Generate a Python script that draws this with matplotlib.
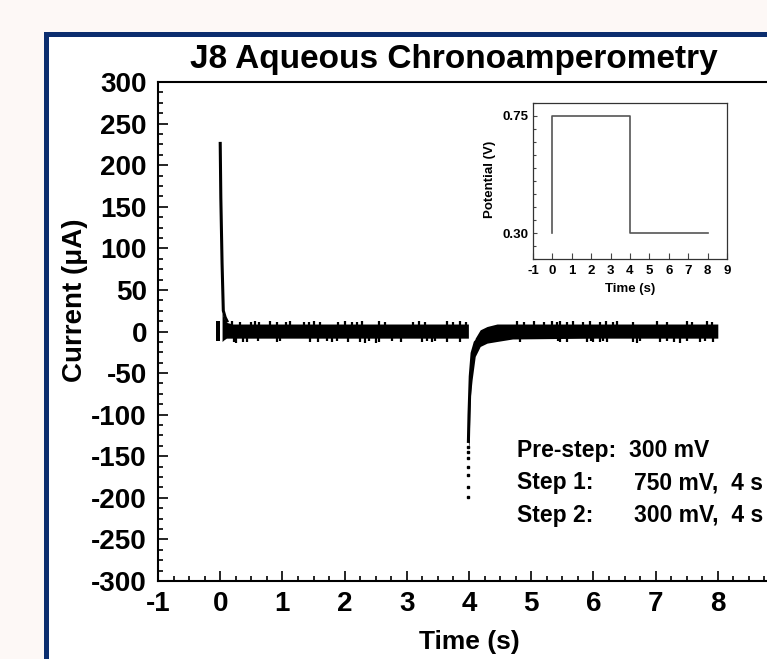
import matplotlib
matplotlib.use('Agg')
import matplotlib.pyplot as plt
from matplotlib.patches import Rectangle
from matplotlib.ticker import MultipleLocator, FixedLocator, FixedFormatter

plt.rcParams['font.family'] = ['Liberation Sans', 'DejaVu Sans']
plt.rcParams['font.weight'] = 'bold'
plt.rcParams['axes.unicode_minus'] = False

# ---------------- data ----------------
# pre-step noise block just before t = 0
pre_t = [-0.07, 0.0]
pre_hi = [13, 13]
pre_lo = [-12, -12]

# current spike after step 1 (t = 0)
spike1_t = [0.0, 0.01, 0.03, 0.05, 0.08, 0.12]
spike1_i = [228, 161, 82, 25, 17, 11]

# noise band of step 1 (envelope)
band1_t = [0.03, 0.06, 0.10, 0.20, 1.00, 2.00, 3.00, 3.99]
band1_hi = [22, 16, 11, 9, 9, 9, 9, 9]
band1_lo = [-12, -10, -8, -8, -8, -8, -8, -8]

# spike after step 2 (t = 4): dense part and sparse tail
spike2_t = [3.99, 4.00, 4.02, 4.05, 4.10, 4.23]
spike2_i = [-134, -100, -54, -26, -13, -4]
tail2_t = [3.99, 3.99, 3.99, 3.99, 3.99, 3.99, 3.99]
tail2_i = [-139, -145, -152, -163, -172, -187, -199]

# noise band of step 2 (envelope)
band2_t = [3.99, 4.00, 4.02, 4.05, 4.10, 4.18, 4.29, 4.45, 4.70, 6.00, 8.00]
band2_hi = [-134, -100, -54, -26, -8, 2, 6, 9, 9, 9, 9]
band2_lo = [-134, -140, -80, -58, -30, -18, -14, -12, -9, -8, -8]

# noise outliers above / below the band
out_hi_t = [0.19, 0.32, 0.50, 0.56, 0.62, 0.80, 0.91, 1.05, 1.12, 1.35, 1.42, 1.50,
            1.60, 1.90, 2.00, 2.12, 2.20, 2.28, 2.55, 2.65, 3.10, 3.20, 3.30, 3.65,
            3.75, 3.85, 3.95, 4.77, 4.88, 5.04, 5.20, 5.33, 5.41, 5.47, 5.57, 5.68,
            5.84, 5.95, 6.11, 6.20, 6.32, 6.38, 6.64, 7.02, 7.18, 7.50, 7.58, 7.83, 7.91]
out_hi_i = [13, 12, 12, 13, 12, 13, 12, 12, 13, 12, 12, 13,
            12, 12, 13, 12, 12, 13, 13, 12, 12, 13, 12, 13,
            12, 13, 12, 13, 12, 13, 12, 13, 12, 13, 12, 13,
            12, 13, 12, 13, 12, 13, 12, 13, 12, 13, 12, 13, 12]
out_lo_t = [0.22, 0.26, 0.36, 0.43, 0.60, 0.92, 0.96, 1.44, 1.57, 1.72, 1.80, 1.87,
            2.05, 2.25, 2.32, 2.40, 2.50, 2.56, 2.76, 2.90, 3.25, 3.32, 3.40, 3.46,
            3.64, 3.86, 4.82, 5.43, 5.47, 5.57, 5.90, 5.96, 6.00, 6.11, 6.16, 6.22,
            6.64, 6.70, 6.75, 7.07, 7.18, 7.29, 7.40, 7.50, 7.72, 7.80, 7.93]
out_lo_i = [-13, -14, -13, -13, -12, -13, -12, -13, -13, -12, -13, -12,
            -13, -13, -14, -12, -14, -13, -12, -13, -13, -12, -13, -12,
            -13, -13, -13, -12, -13, -13, -13, -12, -13, -13, -12, -13,
            -13, -14, -12, -13, -12, -13, -14, -12, -13, -12, -13]

# inset: applied potential
step_t = [0, 0, 4, 4, 8]
step_v = [0.30, 0.75, 0.75, 0.30, 0.30]

x_ticks = [-1, 0, 1, 2, 3, 4, 5, 6, 7, 8, 9]
x_tick_labels_main = ['-1', '0', '1', '2', '3', '4', '5', '6', '7', '8', '']
y_ticks = [-300, -250, -200, -150, -100, -50, 0, 50, 100, 150, 200, 250, 300]
inset_y_ticks = [0.30, 0.75]
inset_y_labels = ['0.30', '0.75']

# ---------------- figure ----------------
W, H = 767, 659
fig = plt.figure(figsize=(W / 100, H / 100), dpi=100, facecolor='#fdf8f6')

frame = Rectangle((45.5 / W, -0.2), 1.3, 0.2 + 1 - 33.5 / H,
                  transform=fig.transFigure, facecolor='white',
                  edgecolor='#0b2d6e', linewidth=3.6, zorder=0)
fig.add_artist(frame)

ax = fig.add_axes([158 / W, (H - 581) / H, 622 / W, 499 / H])
ax.set_facecolor('white')
ax.set_xlim(-1, 9)
ax.set_ylim(-300, 300)

k = 'black'
ax.fill_between(pre_t, pre_lo, pre_hi, color=k, lw=0)
ax.fill_between(band1_t, band1_lo, band1_hi, color=k, lw=0)
ax.fill_between(band2_t, band2_lo, band2_hi, color=k, lw=0)
ax.plot(spike1_t, spike1_i, color=k, lw=2.2, solid_capstyle='butt')
ax.plot(spike2_t, spike2_i, color=k, lw=2.2, solid_capstyle='butt')
ax.plot(tail2_t, tail2_i, ls='none', marker='s', ms=2.0, color=k)
ax.vlines(out_hi_t, 0, out_hi_i, color=k, lw=1.6)
ax.vlines(out_lo_t, 0, out_lo_i, color=k, lw=1.6)

ax.xaxis.set_major_locator(FixedLocator(x_ticks))
ax.xaxis.set_major_formatter(FixedFormatter(x_tick_labels_main))
ax.xaxis.set_minor_locator(MultipleLocator(0.25))
ax.yaxis.set_major_locator(FixedLocator(y_ticks))
ax.yaxis.set_minor_locator(MultipleLocator(12.5))
ax.tick_params(which='both', direction='in', top=False, right=False, width=1.2)
ax.tick_params(which='major', length=7.2, labelsize=20)
ax.tick_params(which='minor', length=3.6)
ax.tick_params(axis='y', pad=8)
ax.tick_params(axis='x', pad=7)
for s in ax.spines.values():
    s.set_linewidth(1.5)

ax.set_xlabel('Time (s)', fontsize=19, fontweight='bold')
ax.xaxis.set_label_coords(0.5, -0.098)
ax.set_ylabel('Current (μA)', fontsize=20, fontweight='bold')
ax.yaxis.set_label_coords(-0.112, 0.563)

fig.text(454 / W, 1 - 68 / H, 'J8 Aqueous Chronoamperometry', ha='center',
         va='baseline', fontsize=24, fontweight='bold')

fs = 16.5
fig.text(517 / W, 1 - 456.7 / H, 'Pre-step:  300 mV', fontsize=fs, va='baseline')
fig.text(517 / W, 1 - 489.2 / H, 'Step 1:', fontsize=fs, va='baseline')
fig.text(634 / W, 1 - 489.2 / H, '750 mV,  4 s', fontsize=fs, va='baseline')
fig.text(517 / W, 1 - 521.7 / H, 'Step 2:', fontsize=fs, va='baseline')
fig.text(634 / W, 1 - 521.7 / H, '300 mV,  4 s', fontsize=fs, va='baseline')

# ---------------- inset ----------------
ax2 = fig.add_axes([533 / W, (H - 259) / H, 194 / W, 156 / H])
ax2.set_xlim(-1, 9)
ax2.set_ylim(0.2, 0.8)
ax2.plot(step_t, step_v, color='#555555', lw=1.2)
ax2.xaxis.set_major_locator(FixedLocator(x_ticks))
ax2.yaxis.set_major_locator(FixedLocator(inset_y_ticks))
ax2.set_yticklabels(inset_y_labels)
ax2.yaxis.set_minor_locator(MultipleLocator(0.05))
ax2.tick_params(which='both', direction='in', top=False, right=False,
                width=0.8, color='#444444')
ax2.tick_params(axis='x', which='major', length=4, labelsize=9.5, pad=4)
ax2.tick_params(axis='y', which='major', length=3, labelsize=9.5, pad=3.5)
ax2.tick_params(axis='y', which='minor', length=2)
for s in ax2.spines.values():
    s.set_linewidth(0.9)
    s.set_color('#333333')
ax2.set_xlabel('Time (s)', fontsize=9.5, fontweight='bold')
ax2.xaxis.set_label_coords(0.5, -0.155)
ax2.set_ylabel('Potential (V)', fontsize=9.5, fontweight='bold')
ax2.yaxis.set_label_coords(-0.19, 0.51)

fig.savefig('out.png', dpi=100, facecolor=fig.get_facecolor())
